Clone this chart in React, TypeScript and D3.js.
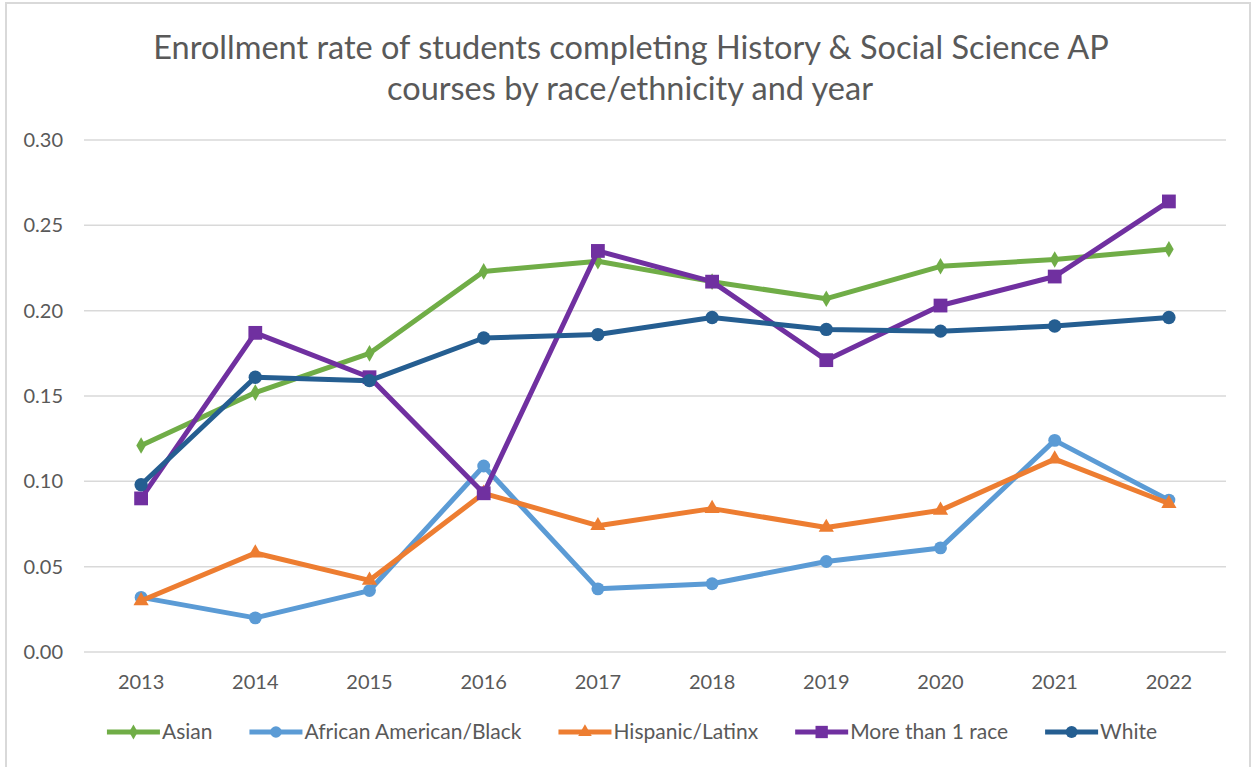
import { useEffect, useRef } from 'react';
import * as d3 from 'd3';

const years = ['2013', '2014', '2015', '2016', '2017', '2018', '2019', '2020', '2021', '2022'];
const yTicks = [0, 0.05, 0.1, 0.15, 0.2, 0.25, 0.3];

const asian = [0.121, 0.152, 0.175, 0.223, 0.229, 0.217, 0.207, 0.226, 0.230, 0.236];
const black = [0.032, 0.020, 0.036, 0.109, 0.037, 0.040, 0.053, 0.061, 0.124, 0.089];
const hispanic = [0.030, 0.058, 0.042, 0.093, 0.074, 0.084, 0.073, 0.083, 0.113, 0.087];
const multi = [0.090, 0.187, 0.161, 0.093, 0.235, 0.217, 0.171, 0.203, 0.220, 0.264];
const white = [0.098, 0.161, 0.159, 0.184, 0.186, 0.196, 0.189, 0.188, 0.191, 0.196];

const series = [
  { name: 'Asian', values: asian, color: '#70AD47', symbol: d3.symbolDiamond, size: 80 },
  { name: 'African American/Black', values: black, color: '#5B9BD5', symbol: d3.symbolCircle, size: 130 },
  { name: 'Hispanic/Latinx', values: hispanic, color: '#ED7D31', symbol: d3.symbolTriangle, size: 100 },
  { name: 'More than 1 race', values: multi, color: '#7030A0', symbol: d3.symbolSquare, size: 190 },
  { name: 'White', values: white, color: '#255E91', symbol: d3.symbolCircle, size: 140 },
];

const W = 1252;
const H = 767;
const FONT = 'Lato, "Open Sans", sans-serif';
const GREY = '#595959';

const App = () => {
  const ref = useRef(null);

  useEffect(() => {
    document.body.style.margin = '0';
    const svg = d3.select(ref.current);
    svg.selectAll('*').remove();

    svg.append('rect')
      .attr('x', 6).attr('y', 3)
      .attr('width', 1244).attr('height', H + 10)
      .attr('fill', '#fff').attr('stroke', '#d9d9d9').attr('stroke-width', 2);

    const title = svg.append('text')
      .attr('text-anchor', 'middle')
      .attr('font-family', FONT)
      .attr('font-size', 32.5)
      .attr('fill', GREY);
    title.append('tspan').attr('x', 631).attr('y', 59).text('Enrollment rate of students completing History & Social Science AP');
    title.append('tspan').attr('x', 630).attr('y', 100).text('courses by race/ethnicity and year');

    const x = d3.scalePoint().domain(years).range([84, 1226]).padding(0.5);
    const y = d3.scaleLinear().domain([0, 0.3]).range([652, 140]);

    svg.append('g').selectAll('line')
      .data(yTicks)
      .enter().append('line')
      .attr('x1', 84).attr('x2', 1226)
      .attr('y1', (d) => y(d)).attr('y2', (d) => y(d))
      .attr('stroke', '#d9d9d9').attr('stroke-width', 1.5);

    svg.append('g').selectAll('text')
      .data(yTicks)
      .enter().append('text')
      .attr('x', 63).attr('y', (d) => y(d) + 7)
      .attr('text-anchor', 'end')
      .attr('font-family', FONT).attr('font-size', 20).attr('fill', GREY)
      .text((d) => d3.format('.2f')(d));

    svg.append('g').selectAll('text')
      .data(years)
      .enter().append('text')
      .attr('x', (d) => x(d)).attr('y', 689)
      .attr('text-anchor', 'middle')
      .attr('font-family', FONT).attr('font-size', 20).attr('fill', GREY)
      .text((d) => d);

    const line = d3.line().x((d, i) => x(years[i])).y((d) => y(d));

    series.forEach((s) => {
      const g = svg.append('g');
      g.append('path')
        .attr('d', line(s.values))
        .attr('fill', 'none')
        .attr('stroke', s.color)
        .attr('stroke-width', 5)
        .attr('stroke-linejoin', 'round');
      g.selectAll('path.m')
        .data(s.values)
        .enter().append('path')
        .attr('class', 'm')
        .attr('d', d3.symbol().type(s.symbol).size(s.size))
        .attr('transform', (d, i) => `translate(${x(years[i])},${y(d)})`)
        .attr('fill', s.color);
    });

    // legend, centred under the plot
    const legend = svg.append('g');
    const ly = 732;
    const lineLen = 53;
    let lx = 0;
    series.forEach((s) => {
      const item = legend.append('g');
      item.append('line')
        .attr('x1', lx).attr('x2', lx + lineLen)
        .attr('y1', ly).attr('y2', ly)
        .attr('stroke', s.color).attr('stroke-width', 5);
      item.append('path')
        .attr('d', d3.symbol().type(s.symbol).size(s.size * 0.8))
        .attr('transform', `translate(${lx + lineLen / 2},${ly})`)
        .attr('fill', s.color);
      const t = item.append('text')
        .attr('x', lx + lineLen + 2).attr('y', ly + 7)
        .attr('font-family', FONT).attr('font-size', 21).attr('fill', GREY)
        .text(s.name);
      lx += lineLen + 2 + t.node().getComputedTextLength() + 37;
    });
    const total = lx - 37;
    legend.attr('transform', `translate(${632 - total / 2},0)`);
  }, []);

  return <svg ref={ref} width={W} height={H} style={{ display: 'block' }}></svg>;
};

export default App;
